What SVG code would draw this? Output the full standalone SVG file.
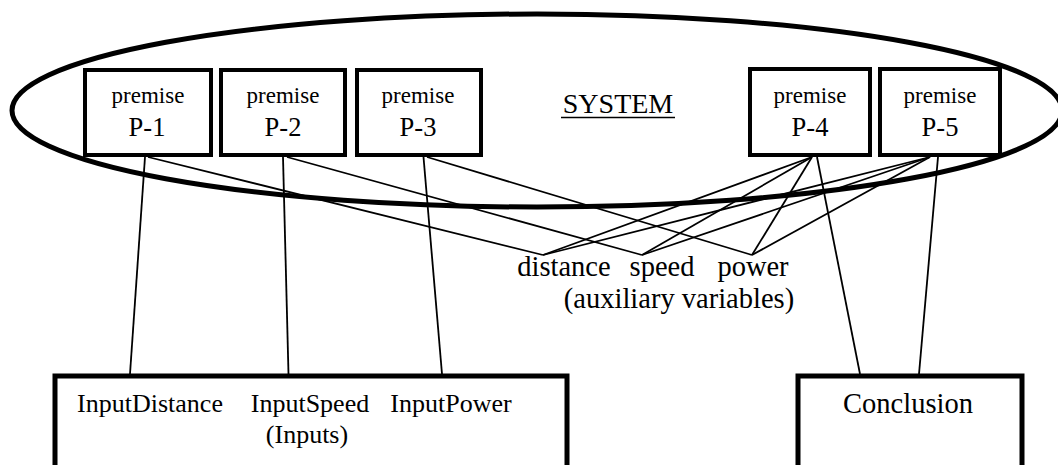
<svg xmlns="http://www.w3.org/2000/svg" width="1058" height="465" viewBox="0 0 1058 465">
<style>
text{font-family:"Liberation Serif","Times New Roman",serif;fill:#000;text-anchor:middle}
.box{fill:#fff;stroke:#000;stroke-width:4}
.big{fill:none;stroke:#000;stroke-width:5}
.pl{font-size:23px}
.pn{font-size:26.5px}
.lbl{font-size:26px}
.aux{font-size:28.5px}
.c line{stroke:#000;stroke-width:1.8}
</style>
<rect width="1058" height="465" fill="#fff"/>
<g id="system">
<ellipse cx="537" cy="110.5" rx="525" ry="96.5" class="big"/>
<text x="618" y="113" style="font-size:28px">SYSTEM</text>
<line x1="561" y1="117.5" x2="675" y2="117.5" stroke="#000" stroke-width="1.5"/>
</g>
<g id="p1"><rect x="85" y="70" width="126" height="85" class="box"/><text x="148" y="103" class="pl">premise</text><text x="147" y="136" class="pn">P-1</text></g>
<g id="p2"><rect x="221" y="70" width="124" height="85" class="box"/><text x="283" y="103" class="pl">premise</text><text x="283" y="136" class="pn">P-2</text></g>
<g id="p3"><rect x="357" y="70" width="124" height="85" class="box"/><text x="418" y="103" class="pl">premise</text><text x="418" y="136" class="pn">P-3</text></g>
<g id="p4"><rect x="750" y="69" width="120" height="86" class="box"/><text x="810" y="103" class="pl">premise</text><text x="810" y="136" class="pn">P-4</text></g>
<g id="p5"><rect x="880" y="69" width="120" height="86" class="box"/><text x="940" y="103" class="pl">premise</text><text x="940" y="136" class="pn">P-5</text></g>
<g id="aux">
<text x="564" y="276" class="aux">distance</text>
<text x="662" y="276" class="aux">speed</text>
<text x="753" y="276" class="aux">power</text>
<text x="679" y="308" class="aux">(auxiliary variables)</text>
</g>
<g id="inputs">
<rect x="55" y="376" width="512" height="110" class="big" fill="#fff"/>
<text x="150" y="412" class="lbl">InputDistance</text>
<text x="310" y="412" class="lbl">InputSpeed</text>
<text x="451" y="412" class="lbl">InputPower</text>
<text x="307" y="443" class="lbl">(Inputs)</text>
</g>
<g id="conclusion">
<rect x="798" y="376" width="224" height="110" class="big" fill="#fff"/>
<text x="908" y="413" style="font-size:28.5px">Conclusion</text>
</g>
<g id="connectors" class="c">
<line x1="145" y1="157" x2="130" y2="374"/>
<line x1="283" y1="157" x2="288.5" y2="374"/>
<line x1="423.5" y1="157" x2="442" y2="374"/>
<line x1="817" y1="157" x2="860" y2="374"/>
<line x1="938" y1="157" x2="919" y2="374"/>
<line x1="148" y1="157" x2="543" y2="255"/>
<line x1="287" y1="157" x2="642" y2="255"/>
<line x1="427" y1="157" x2="752" y2="255"/>
<line x1="812" y1="157" x2="543" y2="255"/>
<line x1="812" y1="157" x2="642" y2="255"/>
<line x1="812" y1="157" x2="752" y2="255"/>
<line x1="930" y1="157" x2="543" y2="255"/>
<line x1="930" y1="157" x2="642" y2="255"/>
<line x1="930" y1="157" x2="752" y2="255"/>
</g>
</svg>
